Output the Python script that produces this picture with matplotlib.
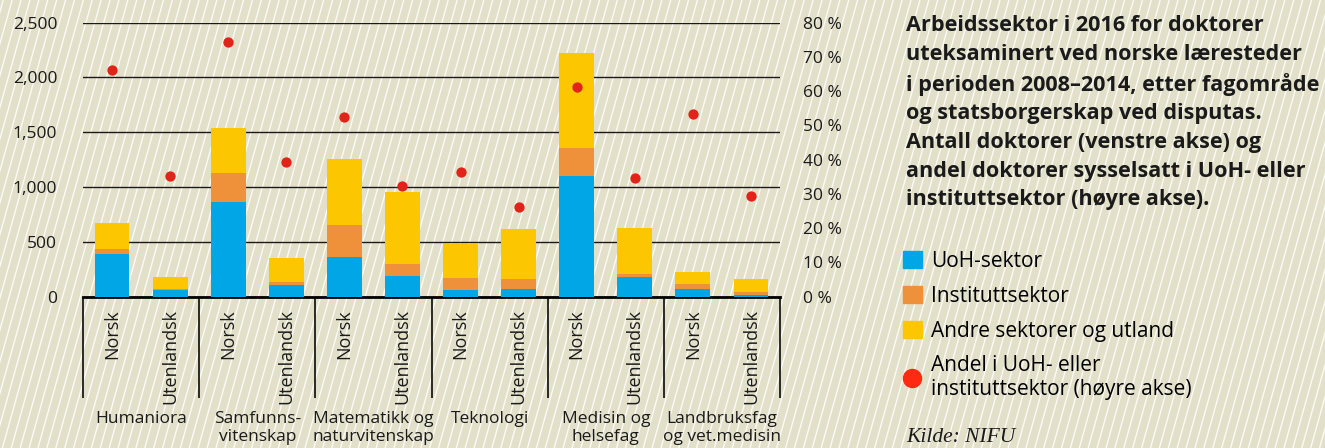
import matplotlib.pyplot as plt
from matplotlib.patches import Patch
from matplotlib.lines import Line2D
from matplotlib.collections import LineCollection
import matplotlib.transforms as mtransforms

plt.rcParams['font.family'] = ['Open Sans', 'DejaVu Sans']

groups = ["Humaniora", "Samfunns-\nvitenskap", "Matematikk og\nnaturvitenskap",
          "Teknologi", "Medisin og\nhelsefag", "Landbruksfag\nog vet.medisin"]
subs = ["Norsk", "Utenlandsk"]

# stacked counts per bar (Norsk / Utenlandsk within each group)
uoh = [387, 61, 867, 104, 365, 192, 61, 73, 1104, 180, 73, 18]
inst = [51, 12, 264, 33, 289, 106, 110, 86, 256, 30, 43, 22]
andre = [232, 107, 405, 216, 600, 660, 313, 456, 861, 417, 109, 121]
andel = [66.1, 35.3, 74.3, 39.2, 52.4, 32.3, 36.3, 26.3, 61.3, 34.6, 53.3, 29.3]

c_blue = "#00A6E6"
c_orange = "#EF913B"
c_yellow = "#FDC700"
c_red = "#E2231A"
bg = "#E3E0C9"
ink = "#1a1a1a"

W, H = 1325, 448
fig = plt.figure(figsize=(W / 100, H / 100), dpi=100, facecolor=bg)

# hatched background, in pixel coordinates
segs = []
x0 = -140.0
while x0 < W:
    segs.append([(x0, 0), (x0 + 0.28 * H, H)])
    x0 += 8.9
fig.add_artist(LineCollection(segs, colors="white", linewidths=1.0, alpha=0.85,
                              transform=mtransforms.IdentityTransform(), zorder=-5))

ax = fig.add_axes([83 / W, 1 - 296.7 / H, (780 - 83) / W, (296.7 - 22.7) / H])
ax.patch.set_alpha(0)
x = list(range(len(uoh)))
bot2 = [a + b for a, b in zip(uoh, inst)]
ax.bar(x, uoh, width=0.6, color=c_blue, zorder=3)
ax.bar(x, inst, width=0.6, bottom=uoh, color=c_orange, zorder=3)
ax.bar(x, andre, width=0.6, bottom=bot2, color=c_yellow, zorder=3)
ax.set_xlim(-0.5, len(uoh) - 0.5)
ax.set_ylim(0, 2500)
ax.set_yticks(range(0, 2501, 500))
ax.set_yticklabels(["0", "500", "1,000", "1,500", "2,000", "2,500"])
ax.yaxis.grid(True, color=ink, lw=1.0)
ax.set_axisbelow(True)
for s in ["top", "right", "left"]:
    ax.spines[s].set_visible(False)
ax.spines["bottom"].set_linewidth(2)
ax.tick_params(axis="y", length=0, pad=18.5, labelsize=12.5, colors=ink)
ax.set_xticks(x)
ax.set_xticklabels(subs * len(groups), rotation=90, va="top", ha="center")
ax.tick_params(axis="x", length=0, pad=9, labelsize=13, colors=ink)

ax2 = ax.twinx()
ax2.scatter(x, andel, s=55, color=c_red, zorder=5, linewidths=0)
ax2.set_ylim(0, 80)
ax2.set_yticks(range(0, 81, 10))
ax2.set_yticklabels([f"{v} %" for v in range(0, 81, 10)])
ax2.tick_params(axis="y", length=0, pad=16.5, labelsize=12.5, colors=ink)
for s in ax2.spines.values():
    s.set_visible(False)

# group separators below the axis
trans = mtransforms.blended_transform_factory(ax.transData, ax.transAxes)
seps = [i * 2 - 0.5 for i in range(len(groups) + 1)]
ax.vlines(seps, -(398 - 296.7) / 274, 0, transform=trans, color=ink, lw=1.3, clip_on=False)
tfig = mtransforms.blended_transform_factory(ax.transData, fig.transFigure)
for i, g in enumerate(groups):
    ax.text(i * 2 + 0.5, 1 - 411 / H, g, transform=tfig, ha="center", va="top",
            fontsize=12.5, linespacing=1.2, color=ink)

title = ("Arbeidssektor i 2016 for doktorer\n"
         "uteksaminert ved norske læresteder\n"
         "i perioden 2008–2014, etter fagområde\n"
         "og statsborgerskap ved disputas.\n"
         "Antall doktorer (venstre akse) og\n"
         "andel doktorer sysselsatt i UoH- eller\n"
         "instituttsektor (høyre akse).")
fig.text(906 / W, 1 - 15 / H, title, ha="left", va="top", fontsize=15.6, fontweight="bold",
         linespacing=1.47, color=ink)

handles = [Patch(color=c_blue), Patch(color=c_orange), Patch(color=c_yellow),
           Line2D([], [], marker="o", ls="", color="#FF2A12", markersize=13)]
labels = ["UoH-sektor", "Instituttsektor", "Andre sektorer og utland",
          "Andel i UoH- eller\ninstituttsektor (høyre akse)"]
fig.legend(handles, labels, loc="upper left", bbox_to_anchor=(903 / W, 1 - 251 / H),
           frameon=False, fontsize=15, handlelength=0.9, handleheight=0.9,
           handletextpad=0.45, labelspacing=0.66, borderaxespad=0, borderpad=0)

fig.text(906 / W, 1 - 437 / H, "Kilde: NIFU", family="Liberation Serif", style="italic",
         fontsize=15.5, va="center", ha="left", color=ink)

fig.savefig("out.png", dpi=100, facecolor=bg)
